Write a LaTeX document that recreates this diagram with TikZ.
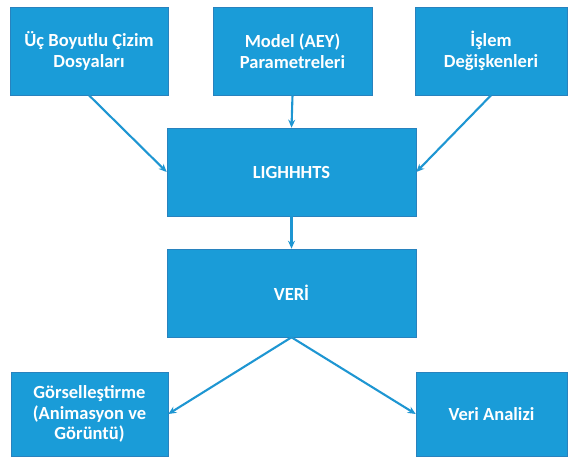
\documentclass[tikz,border=0pt]{standalone}
\usepackage{fontspec}
\setmainfont{Carlito}
\usetikzlibrary{arrows.meta}
\definecolor{boxblue}{RGB}{26,156,216}
\definecolor{edgeblue}{RGB}{40,130,190}
\definecolor{lineblue}{RGB}{30,150,210}
\tikzset{
  box/.style={draw=edgeblue, line width=0.6pt, fill=boxblue, text=white, font=\bfseries\fontsize{18.5}{20.5}\selectfont, align=center, inner sep=0pt},
  conn/.style={draw=lineblue, line width=2.1pt, -{Stealth[length=8pt,width=7pt]}}
}
\begin{document}
\begin{tikzpicture}[x=1pt,y=-1pt]
\useasboundingbox (0,0) rectangle (569,457);
\node[box, minimum width=158pt, minimum height=88pt] (a) at (89,51) {Üç Boyutlu Çizim\\Dosyaları};
\node[box, minimum width=159pt, minimum height=88pt] (b) at (292.5,51) {Model (AEY)\\Parametreleri};
\node[box, minimum width=152pt, minimum height=88pt] (c) at (491,51) {İşlem\\Değişkenleri};
\node[box, minimum width=249pt, minimum height=88pt] (l) at (291.5,172) {LIGHHHTS};
\node[box, minimum width=249pt, minimum height=88pt] (v) at (291.5,293) {VERİ};
\node[box, minimum width=157pt, minimum height=84pt] (g) at (89.5,414) {Görselleştirme\\(Animasyon ve\\Görüntü)};
\node[box, minimum width=151pt, minimum height=84pt] (r) at (491.5,414) {Veri Analizi};
\draw[conn] (a.south) -- (l.west);
\draw[conn] (b.south) -- (l.north);
\draw[conn] (c.south) -- (l.east);
\draw[conn] (l.south) -- (v.north);
\draw[conn] (v.south) -- (g.east);
\draw[conn] (v.south) -- (r.west);
\end{tikzpicture}
\end{document}
